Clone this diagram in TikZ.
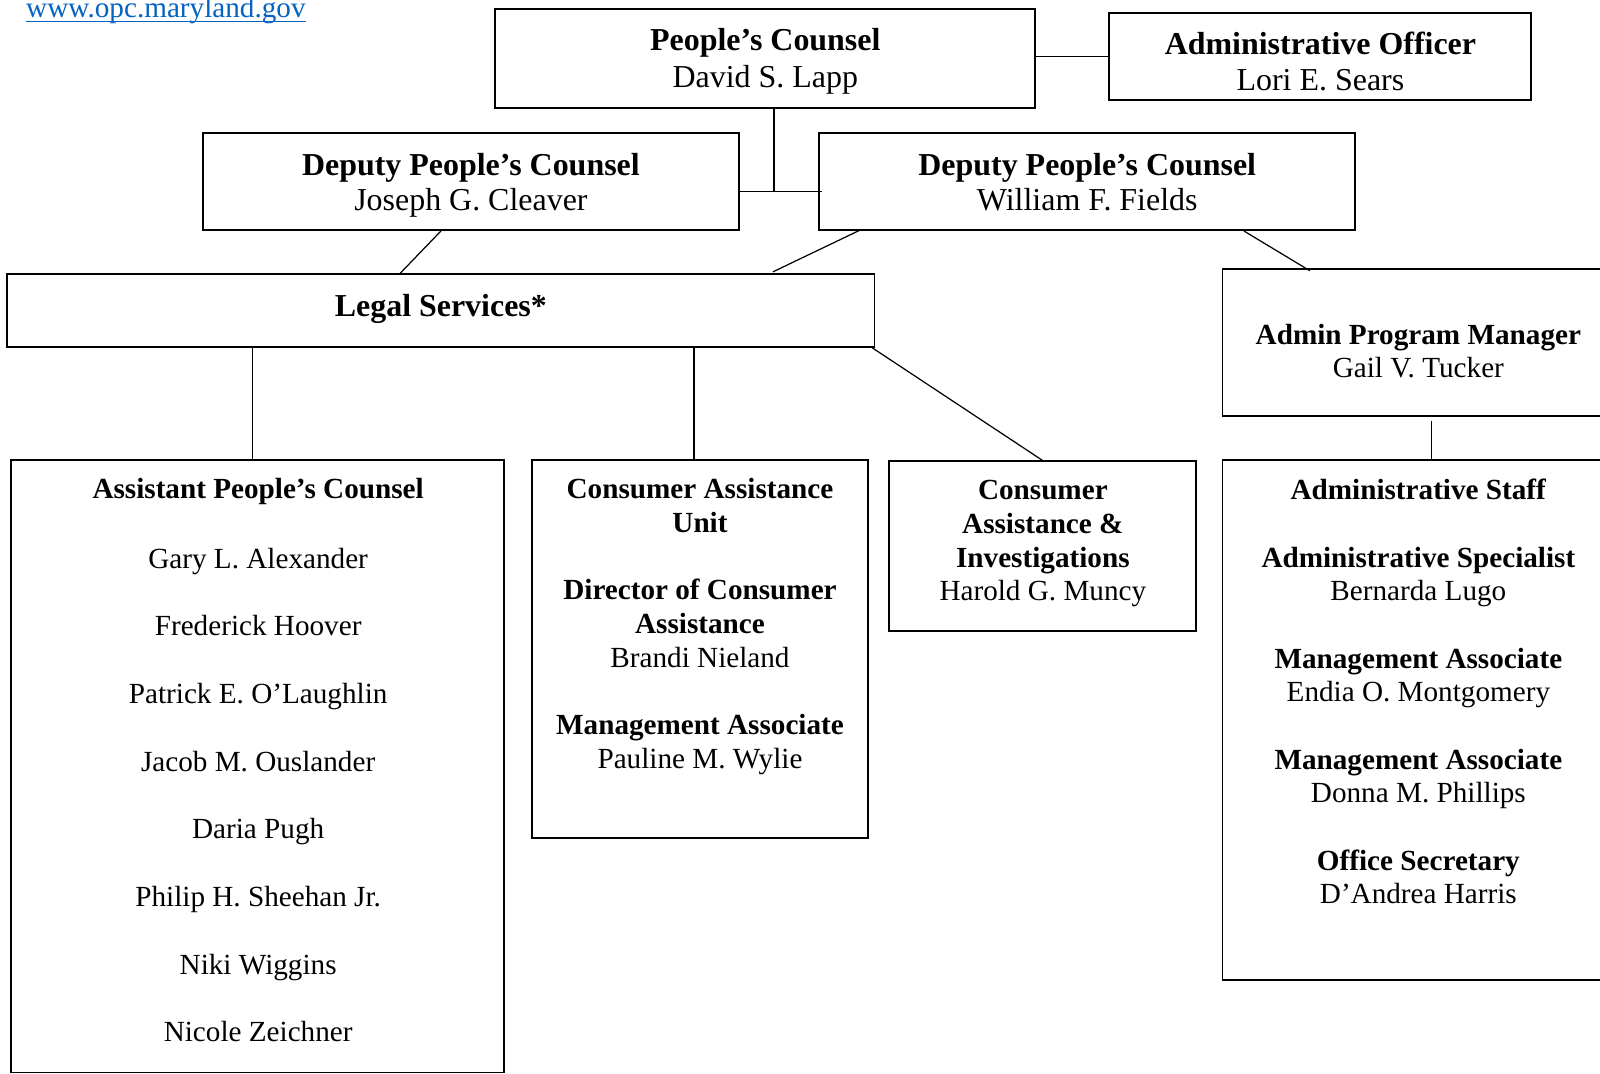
\documentclass[tikz,border=0pt]{standalone}
\usepackage{fontspec}
\setmainfont{Liberation Serif}
\usetikzlibrary{calc}
\definecolor{linkblue}{HTML}{0563C1}
\begin{document}
\begin{tikzpicture}[x=1pt,y=-1pt,
  box/.style={draw=black, line width=1.8pt, rectangle, inner sep=0pt},
  conn/.style={draw=black, line width=1.2pt},
  txt/.style={align=center, inner sep=0pt, anchor=north, font=\fontsize{28.6}{33}\selectfont},
  txtL/.style={txt, font=\fontsize{28.6}{33.15}\selectfont},
  txtA/.style={txt, font=\fontsize{31.3}{36}\selectfont},
  txtB/.style={txt, font=\fontsize{31.3}{35}\selectfont},
  txtD/.style={txt, font=\fontsize{31.3}{33}\selectfont},
  txtC/.style={txt, font=\fontsize{28.6}{32}\selectfont}]
\useasboundingbox (0,0) rectangle (1568,1052.3);
\fill[white] (0,0) rectangle (1568,1052.3);
\begin{scope}
\clip (0,0) rectangle (1568,1052.3);
% link
\node[anchor=base west, inner sep=0pt, text=linkblue, font=\fontsize{28.6}{33}\selectfont] (url) at (25.5,17) {www.opc.maryland.gov};
\draw[linkblue, line width=1.3pt] ($(url.base west)+(0,4.2)$) -- ($(url.base east)+(0,4.2)$);
% boxes
\node[box, minimum width=529pt, minimum height=97pt] (pc) at (749.5,57.5) {};
\node[box, minimum width=413pt, minimum height=85pt] (ao) at (1293.5,55.5) {};
\node[box, minimum width=525pt, minimum height=95pt] (dl) at (461.5,178) {};
\node[box, minimum width=525.5pt, minimum height=95pt] (dr) at (1065.25,178) {};
\node[box, minimum width=850pt, minimum height=71.2pt] (ls) at (432,304.4) {};
\node[box, minimum width=384pt, minimum height=144pt] (apm) at (1390,336) {};
\node[box, minimum width=483pt, minimum height=600.5pt] (asst) at (252.5,750.75) {};
\node[box, minimum width=330pt, minimum height=370.5pt] (cau) at (686,635.75) {};
\node[box, minimum width=301pt, minimum height=166pt] (cai) at (1021.5,535) {};
\node[box, minimum width=384pt, minimum height=509pt] (as) at (1390,705.5) {};
% connectors
\draw[conn] (ao.west -| pc.east) -- (ao.west);
\coordinate (j) at (758.4,188);
\draw[conn] (j |- pc.south) -- (j);
\draw[conn] (j -| dl.east) -- ($(j -| dr.west)+(4,0)$);
\draw[conn] ($(dl.south west)+(234,0)$) -- ($(ls.north west)+(386,0)$);
\draw[conn] ($(dr.south west)+(42.5,-1.5)$) -- ($(ls.north west)+(751.4,-1.5)$);
\draw[conn] ($(dr.south west)+(417.5,0)$) -- ($(apm.north west)+(86.5,2.2)$);
\draw[conn] ($(ls.south west)+(241,0)$) -- ($(asst.north west)+(237,0)$);
\draw[conn] ($(ls.south west)+(674,0)$) -- ($(cau.north west)+(160,0)$);
\draw[conn] ($(ls.south east)+(-3,0)$) -- (cai.north);
\draw[conn] ($(apm.south west)+(205.5,3.5)$) -- ($(as.north west)+(205.5,0)$);
\end{scope}
% texts
\node[txtA] (pcT) at (750,24.2) {\strut\textbf{People’s Counsel}\\David S. Lapp};
\node[txtB] (aoT) at (1294,28.9) {\strut\textbf{Administrative Officer}\\Lori E. Sears};
\node[txtB] (dlT) at (461.5,146.9) {\strut\textbf{Deputy People’s Counsel}\\Joseph G. Cleaver};
\node[txtB] (drT) at (1065.5,146.9) {\strut\textbf{Deputy People’s Counsel}\\William F. Fields};
\node[txtD] (lsT) at (432,287.3) {\strut\textbf{Legal Services*}};
\node[txtC] (apmT) at (1390,315.1) {\strut\textbf{Admin Program Manager}\\Gail V. Tucker};
\node[txtL] (asstT) at (253,465.3) {\strut\textbf{Assistant People’s Counsel}\\[34.85pt]
  Gary L. Alexander\\[33.15pt]
  Frederick Hoover\\[33.15pt]
  Patrick E. O’Laughlin\\[33.15pt]
  Jacob M. Ouslander\\[33.15pt]
  Daria Pugh\\[33.15pt]
  Philip H. Sheehan Jr.\\[33.15pt]
  Niki Wiggins\\[33.15pt]
  Nicole Zeichner};
\node[txt] (cauT) at (686,465.4) {\strut\textbf{Consumer Assistance}\\\textbf{Unit}\\[33pt]
  \textbf{Director of Consumer}\\\textbf{Assistance}\\Brandi Nieland\\[33pt]
  \textbf{Management Associate}\\Pauline M. Wylie};
\node[txt] (caiT) at (1022,466.4) {\strut\textbf{Consumer}\\\textbf{Assistance \&}\\\textbf{Investigations}\\Harold G. Muncy};
\node[txt] (asT) at (1390,466.4) {\strut\textbf{Administrative Staff}\\[33pt]
  \textbf{Administrative Specialist}\\Bernarda Lugo\\[33pt]
  \textbf{Management Associate}\\Endia O. Montgomery\\[33pt]
  \textbf{Management Associate}\\Donna M. Phillips\\[33pt]
  \textbf{Office Secretary}\\D’Andrea Harris};
\end{tikzpicture}
\end{document}
